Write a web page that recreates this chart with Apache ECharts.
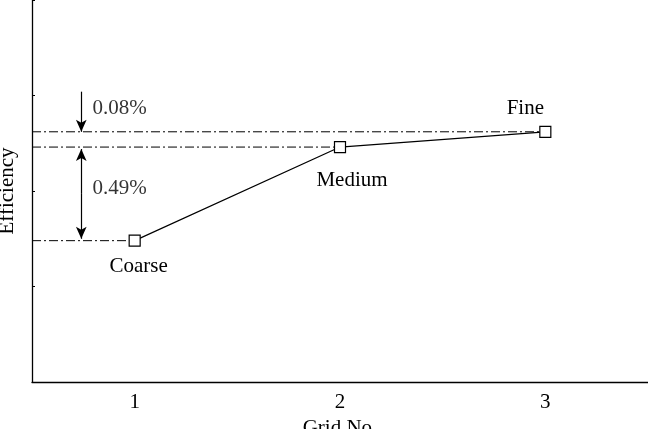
<!DOCTYPE html><html><head><meta charset="utf-8">
<script src="https://cdn.jsdelivr.net/npm/echarts@6/dist/echarts.min.js"></script>
<style>html,body{margin:0;background:#fff}#c{width:648px;height:429px}</style></head><body><div id="c"></div>
<script>
const gridNo=[1,2,3];
const names=['Coarse','Medium','Fine'];
const efficiency=[89.74,90.23,90.31];
const diffLabels=['0.08%','0.49%'];
const F='Liberation Serif';
const FS=21;
const chart=echarts.init(document.getElementById('c'));
const dash={type:[9,3,2,3],color:'#000',width:1};
const refLines=efficiency.map((v,i)=>({type:'line',data:[[0.5,v],[gridNo[i],v]],symbol:'none',lineStyle:dash,z:1,silent:true}));
const arrowX=0.74;
const labelPos=[{position:'bottom',offset:[4,4]},{position:'bottom',offset:[12,12]},{position:'top',offset:[-20,-2]}];
chart.setOption({
 animation:false,
 grid:{left:32,right:0,top:0,bottom:47,outerBoundsMode:'none',containLabel:false},
 xAxis:{type:'value',min:0.5,max:3.5,interval:0.5,
  axisLine:{lineStyle:{color:'#000',width:1.3}},axisTick:{show:false},splitLine:{show:false},
  axisLabel:{color:'#000',fontFamily:F,fontSize:FS,margin:10,showMinLabel:false,showMaxLabel:false,
   formatter:v=>Number.isInteger(v)&&gridNo.includes(v)?String(v):''},
  name:'Grid No.',nameLocation:'middle',nameGap:34,nameTextStyle:{color:'#000',fontFamily:F,fontSize:FS}},
 yAxis:{type:'value',min:89,max:91,interval:0.5,
  axisLine:{show:true,lineStyle:{color:'#000',width:1.3}},axisTick:{show:true,inside:true,length:3,lineStyle:{color:'#000'}},
  splitLine:{show:false},axisLabel:{show:false},
  name:'Efficiency',nameLocation:'middle',nameGap:14,nameTextStyle:{color:'#000',fontFamily:F,fontSize:FS}},
 series:[...refLines,
  {type:'line',data:gridNo.map((g,i)=>({value:[g,efficiency[i]],label:labelPos[i]})),symbol:'rect',symbolSize:11,
   itemStyle:{color:'#fff',borderColor:'#000',borderWidth:1.2},lineStyle:{color:'#000',width:1.2},z:3,
   label:{show:true,fontFamily:F,fontSize:FS,color:'#000',formatter:p=>names[p.dataIndex]},
   markLine:{silent:true,symbol:['none','arrow'],symbolSize:[8,12],lineStyle:{color:'#000',type:'solid',width:1.2},
    label:{show:false},
    data:[
     [{coord:[arrowX,efficiency[2]+0.21]},{coord:[arrowX,efficiency[2]]}],
     [{coord:[arrowX,(efficiency[0]+efficiency[1])/2],symbol:'none'},{coord:[arrowX,efficiency[1]-0.01]}],
     [{coord:[arrowX,(efficiency[0]+efficiency[1])/2],symbol:'none'},{coord:[arrowX,efficiency[0]+0.01]}]
    ]}},
  {type:'scatter',symbolSize:0,data:[[arrowX+0.03,efficiency[2]+0.12],[arrowX+0.03,(efficiency[0]+efficiency[1])/2+0.03]],
   label:{show:true,position:'right',fontFamily:F,fontSize:FS,color:'#000',formatter:p=>diffLabels[p.dataIndex]}}
 ]
});
</script></body></html>
